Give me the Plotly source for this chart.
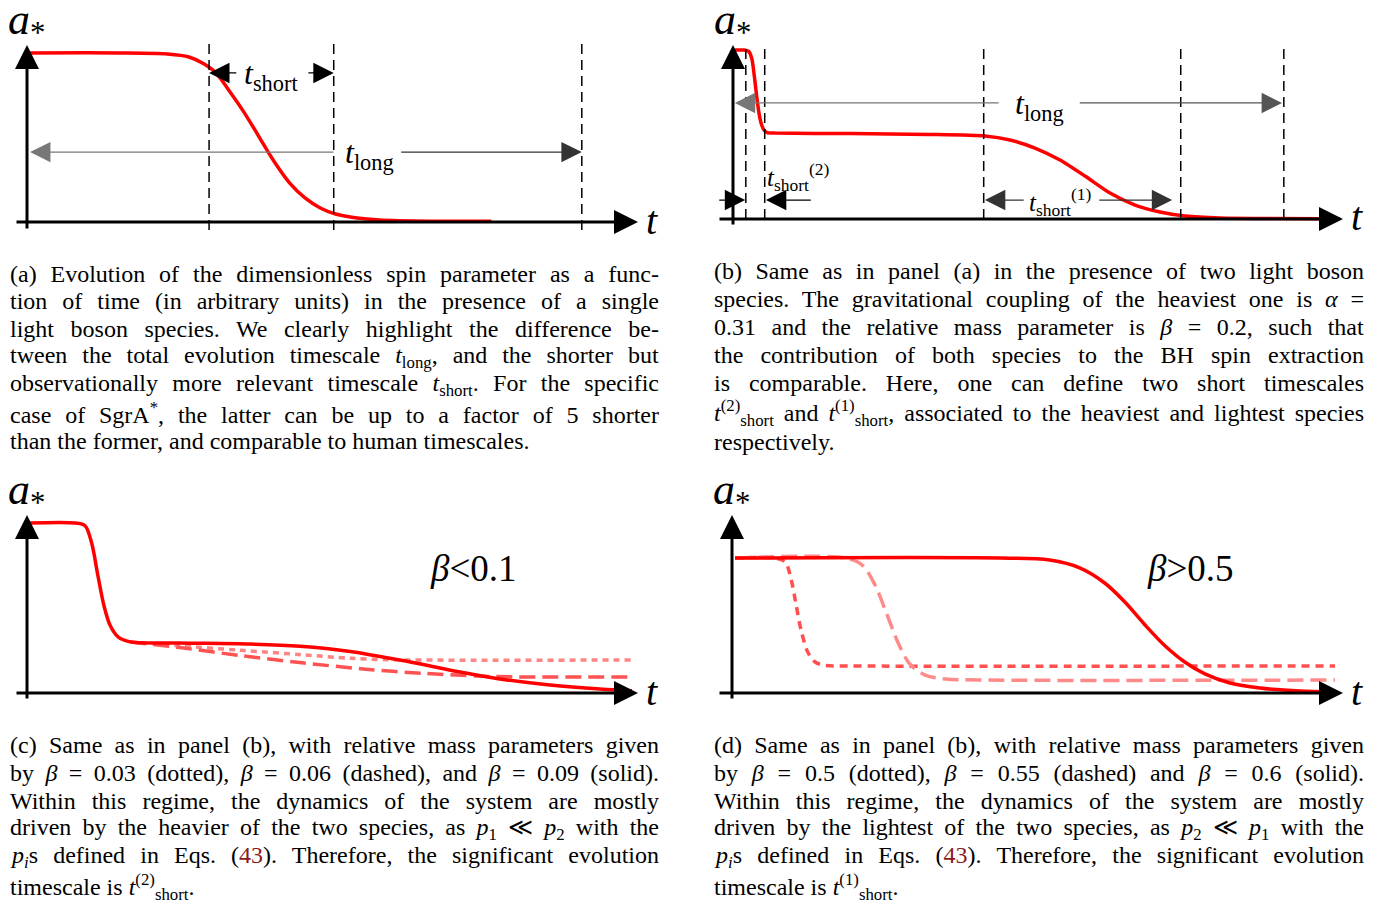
import json
import plotly.graph_objects as go

W, H = 1375, 909

# ---------------- data (t in arbitrary units, a* dimensionless) ----------------
# Panel (a): single species
a_t = [0.05, 1.5, 2.3, 2.65, 2.9, 3.08, 3.3, 3.55, 3.8, 4.05, 4.3, 4.55, 4.8, 5.05, 5.4, 6.0, 7.6]
a_y = [0.955, 0.955, 0.949, 0.932, 0.893, 0.847, 0.746, 0.621, 0.480, 0.339, 0.220, 0.136, 0.079, 0.045, 0.023, 0.008, 0.004]
a_dashed_t = [2.98, 5.02, 9.08]

# Panel (b): two species
b_t = [0.03, 0.18, 0.26, 0.31, 0.35, 0.39, 0.43, 0.47, 0.51, 0.56, 0.69, 1.92, 3.23, 4.13, 4.54, 4.95, 5.36, 5.77, 6.18, 6.59, 7.0, 7.41, 7.98, 9.95]
b_y = [0.971, 0.971, 0.962, 0.920, 0.820, 0.700, 0.600, 0.540, 0.510, 0.497, 0.494, 0.491, 0.486, 0.477, 0.454, 0.408, 0.339, 0.247, 0.149, 0.080, 0.040, 0.017, 0.006, 0.002]
b_dashed_t = [0.21, 0.52, 4.11, 7.34, 9.03]

# Panel (c): beta < 0.1
c_solid_t = [0.05, 0.79, 0.95, 1.06, 1.16, 1.26, 1.36, 1.49, 1.69, 2.5, 3.65, 4.47, 5.29, 6.1, 6.6, 7.09, 7.74, 8.56, 9.38, 9.9]
c_solid_y = [0.955, 0.955, 0.94, 0.84, 0.66, 0.49, 0.38, 0.315, 0.287, 0.281, 0.275, 0.262, 0.233, 0.185, 0.152, 0.118, 0.079, 0.045, 0.022, 0.012]
c_dot_t = [1.69, 2.5, 3.5, 4.5, 5.3, 5.9, 6.5, 9.9]
c_dot_y = [0.287, 0.265, 0.240, 0.215, 0.195, 0.187, 0.185, 0.185]
c_dash_t = [1.69, 2.5, 3.5, 4.5, 5.5, 6.5, 7.4, 8.2, 9.9]
c_dash_y = [0.287, 0.255, 0.210, 0.170, 0.135, 0.110, 0.095, 0.090, 0.090]

# Panel (d): beta > 0.5
d_solid_t = [0.05, 4.39, 5.2, 5.7, 6.1, 6.43, 6.76, 7.09, 7.41, 7.74, 8.15, 8.64, 9.3, 9.87]
d_solid_y = [0.758, 0.758, 0.747, 0.702, 0.618, 0.511, 0.382, 0.264, 0.174, 0.107, 0.056, 0.028, 0.011, 0.006]
d_dot_t = [0.05, 0.70, 0.87, 0.97, 1.05, 1.13, 1.24, 1.36, 1.52, 1.93, 9.87]
d_dot_y = [0.758, 0.758, 0.736, 0.635, 0.494, 0.354, 0.230, 0.174, 0.155, 0.152, 0.152]
d_dash_t = [0.05, 1.85, 2.13, 2.34, 2.54, 2.72, 2.91, 3.16, 3.49, 4.06, 9.87]
d_dash_y = [0.758, 0.758, 0.719, 0.607, 0.438, 0.281, 0.163, 0.101, 0.079, 0.073, 0.073]

caption_a = [
    "(a) Evolution of the dimensionless spin parameter as a func-",
    "tion of time (in arbitrary units) in the presence of a single",
    "light boson species. We clearly highlight the difference be-",
    "tween the total evolution timescale <i>t</i><sub>long</sub>, and the shorter but",
    "observationally more relevant timescale <i>t</i><sub>short</sub>. For the specific",
    "case of SgrA<sup>*</sup>, the latter can be up to a factor of 5 shorter",
    "than the former, and comparable to human timescales.",
]
caption_b = [
    "(b) Same as in panel (a) in the presence of two light boson",
    "species. The gravitational coupling of the heaviest one is <i>α</i> =",
    "0.31 and the relative mass parameter is <i>β</i> = 0.2, such that",
    "the contribution of both species to the BH spin extraction",
    "is comparable. Here, one can define two short timescales",
    "<i>t</i><sup>(2)</sup><sub>short</sub> and <i>t</i><sup>(1)</sup><sub>short</sub>, associated to the heaviest and lightest species",
    "respectively.",
]
REF = "<span style='color:#8b1a1a'>43</span>"
caption_c = [
    "(c) Same as in panel (b), with relative mass parameters given",
    "by <i>β</i> = 0.03 (dotted), <i>β</i> = 0.06 (dashed), and <i>β</i> = 0.09 (solid).",
    "Within this regime, the dynamics of the system are mostly",
    "driven by the heavier of the two species, as <i>p</i><sub>1</sub> ≪ <i>p</i><sub>2</sub> with the",
    "<i>p<sub>i</sub></i>s defined in Eqs. (" + REF + "). Therefore, the significant evolution",
    "timescale is <i>t</i><sup>(2)</sup><sub>short</sub>.",
]
caption_d = [
    "(d) Same as in panel (b), with relative mass parameters given",
    "by <i>β</i> = 0.5 (dotted), <i>β</i> = 0.55 (dashed) and <i>β</i> = 0.6 (solid).",
    "Within this regime, the dynamics of the system are mostly",
    "driven by the lightest of the two species, as <i>p</i><sub>2</sub> ≪ <i>p</i><sub>1</sub> with the",
    "<i>p<sub>i</sub></i>s defined in Eqs. (" + REF + "). Therefore, the significant evolution",
    "timescale is <i>t</i><sup>(1)</sup><sub>short</sub>.",
]

# ---------------- layout geometry (pixel boxes of each panel's axes) ----------------
# (y-axis x px, x-axis arrow tip px, x-axis y px, y-axis arrow top px, x-axis left end px, y-axis bottom px)
panels = {
    "a": (27, 638, 222, 45, 15, 230),
    "b": (733, 1343, 219, 45, 718, 226),
    "c": (27, 638, 693, 515, 15, 700),
    "d": (732, 1343, 693, 515, 718, 700),
}
axis_names = {"a": ("x", "y"), "b": ("x2", "y2"), "c": ("x3", "y3"), "d": ("x4", "y4")}

RED = "#ff0000"
SERIF = "Liberation Serif"

fig = go.Figure()
layout_axes = {}
annotations = []
shapes = []

for key, (x0, xt, y0, yt, xl, yb) in panels.items():
    kx = 10.0 / (xt - x0)
    ky = 1.0 / (y0 - yt)
    pl, pr = x0 - 25, xt + 30
    pb, ptop = y0 + 20, yt - 15
    xr = [(pl - x0) * kx, (pr - x0) * kx]
    yr = [(y0 - pb) * ky, (y0 - ptop) * ky]
    xn, yn = axis_names[key]
    xname = "xaxis" + xn[1:]
    yname = "yaxis" + yn[1:]
    layout_axes[xname] = dict(domain=[pl / W, pr / W], range=xr, visible=False,
                              anchor=yn, fixedrange=True)
    layout_axes[yname] = dict(domain=[1 - pb / H, 1 - ptop / H], range=yr, visible=False,
                              anchor=xn, fixedrange=True)
    # axis lines with arrow heads
    annotations.append(dict(x=10, y=0, ax=(xl - x0) * kx, ay=0,
                            xref=xn, yref=yn, axref=xn, ayref=yn, text="",
                            showarrow=True, arrowhead=2, arrowsize=1.6, arrowwidth=3,
                            arrowcolor="black", standoff=0))
    annotations.append(dict(x=0, y=1, ax=0, ay=(y0 - yb) * ky, xref=xn, yref=yn, axref=xn,
                            ayref=yn, text="", showarrow=True, arrowhead=2, arrowsize=1.6,
                            arrowwidth=3, arrowcolor="black", standoff=0))
    # axis labels
    annotations.append(dict(x=(xt + 14) / W, y=1 - (y0 - 2) / H, xref="paper", yref="paper",
                            xanchor="center", yanchor="middle",
                            text="<i>t</i>", showarrow=False,
                            font=dict(family=SERIF, size=40, color="black")))
    annotations.append(dict(x=(x0 - 1) / W, y=1 - (yt - 23) / H, xref="paper", yref="paper",
                            xanchor="center", yanchor="middle",
                            text="<i>a</i><sub>*</sub>", showarrow=False,
                            font=dict(family=SERIF, size=44, color="black")))

def add_line(t, y, axes, color, width=3.5, dash="solid", smoothing=0.9):
    fig.add_trace(go.Scatter(x=t, y=y, mode="lines", xaxis=axes[0], yaxis=axes[1],
                             line=dict(color=color, width=width, dash=dash, shape="spline",
                                       smoothing=smoothing),
                             hoverinfo="skip", showlegend=False))

# dashed verticals
for t in a_dashed_t:
    shapes.append(dict(type="line", xref="x", yref="y", x0=t, x1=t, y0=-0.045, y1=1.01,
                       line=dict(color="black", width=1.5, dash="10px,6px")))
for t in b_dashed_t:
    shapes.append(dict(type="line", xref="x2", yref="y2", x0=t, x1=t, y0=0, y1=1.01,
                       line=dict(color="black", width=1.5, dash="10px,6px")))

# curves
add_line(a_t, a_y, ("x", "y"), RED)
add_line(b_t, b_y, ("x2", "y2"), RED, smoothing=0.6)
add_line(c_dot_t, c_dot_y, ("x3", "y3"), "#ff8585", 3.5, "6px,5px")
add_line(c_dash_t, c_dash_y, ("x3", "y3"), "#ff5252", 3.5, "16px,7px")
add_line(c_solid_t, c_solid_y, ("x3", "y3"), RED)
add_line(d_dot_t, d_dot_y, ("x4", "y4"), "#ff4f4f", 3.5, "8px,6px")
add_line(d_dash_t, d_dash_y, ("x4", "y4"), "#ff8a8a", 3.5, "16px,7px")
add_line(d_solid_t, d_solid_y, ("x4", "y4"), RED)

def dim_arrow(xref, yref, x, y, ax, color="black", width=1.2, size=3.4):
    annotations.append(dict(x=x, y=y, ax=ax, ay=y, xref=xref, yref=yref, axref=xref,
                            ayref=yref, text="", showarrow=True, arrowhead=2,
                            arrowsize=size, arrowwidth=width, arrowcolor=color, standoff=0))

def label(xref, yref, x, y, text, size=32):
    annotations.append(dict(x=x, y=y, xref=xref, yref=yref, text=text, showarrow=False,
                            font=dict(family=SERIF, size=size, color="black")))

# panel (a) timescale markers
dim_arrow("x", "y", 2.98, 0.842, 3.45)
dim_arrow("x", "y", 5.02, 0.842, 4.58)
label("x", "y", 3.99, 0.83, "<i>t</i><sub>short</sub>")
dim_arrow("x", "y", 0.05, 0.395, 5.04, color="#777777")
dim_arrow("x", "y", 9.08, 0.395, 6.1, color="#333333")
label("x", "y", 5.6, 0.38, "<i>t</i><sub>long</sub>")

# panel (b) timescale markers
dim_arrow("x2", "y2", 0.03, 0.667, 4.38, color="#777777")
dim_arrow("x2", "y2", 9.0, 0.667, 5.66, color="#555555")
label("x2", "y2", 5.02, 0.655, "<i>t</i><sub>long</sub>")
dim_arrow("x2", "y2", 0.2, 0.109, -0.25)
dim_arrow("x2", "y2", 0.54, 0.109, 1.3)
label("x2", "y2", 1.08, 0.24, "<i>t</i><sub>short</sub><sup>(2)</sup>", size=25)
dim_arrow("x2", "y2", 4.13, 0.109, 4.79, color="#333333")
dim_arrow("x2", "y2", 7.2, 0.109, 5.98, color="#333333")
label("x2", "y2", 5.37, 0.10, "<i>t</i><sub>short</sub><sup>(1)</sup>", size=25)

# regime labels
label("x3", "y3", 7.3, 0.7, "<i>β</i>&lt;0.1", size=37)
label("x4", "y4", 7.5, 0.7, "<i>β</i>&gt;0.5", size=37)

# captions (justified by word spacing in the page script)
justify = []

def caption(lines, x_px, y_px_list, width_px):
    for i, (line, yp) in enumerate(zip(lines, y_px_list)):
        if i < len(lines) - 1:
            justify.append([len(annotations), width_px])
        annotations.append(dict(x=x_px / W, y=1 - yp / H, xref="paper", yref="paper",
                                xanchor="left", yanchor="middle", align="left", text=line,
                                showarrow=False, font=dict(family=SERIF, size=24, color="black")))

caption(caption_a, 8, [274, 301, 329, 357, 385, 413, 441], 649)
caption(caption_b, 712, [271, 299, 327, 355, 383, 413, 442], 650)
caption(caption_c, 8, [745, 773, 801, 829, 857, 887], 649)
caption(caption_d, 712, [745, 773, 801, 829, 857, 887], 650)

fig.update_layout(width=W, height=H, margin=dict(l=0, r=0, t=0, b=0),
                  paper_bgcolor="white", plot_bgcolor="rgba(0,0,0,0)",
                  annotations=annotations, shapes=shapes, showlegend=False,
                  **layout_axes)

post = """
document.body.style.margin='0';
document.body.style.overflow='hidden';
(function(){
  var specs = %s;
  specs.forEach(function(s){
    var g = document.querySelector('g.annotation[data-index="' + s[0] + '"]');
    if (!g) return;
    var t = g.querySelector('text.annotation-text');
    if (!t) return;
    var b0 = t.getBBox();
    var n = (t.textContent.match(/ /g) || []).length;
    if (n < 1) return;
    var extra = (s[1] - b0.width) / n;
    t.style.wordSpacing = extra + 'px';
    var b1 = t.getBBox();
    var dx = b0.x - b1.x;
    var tr = t.getAttribute('transform') || '';
    t.setAttribute('transform', tr + ' translate(' + dx + ',0)');
  });
})();
""" % json.dumps(justify)

fig.write_html("out.html", config={"displayModeBar": False}, post_script=post)
